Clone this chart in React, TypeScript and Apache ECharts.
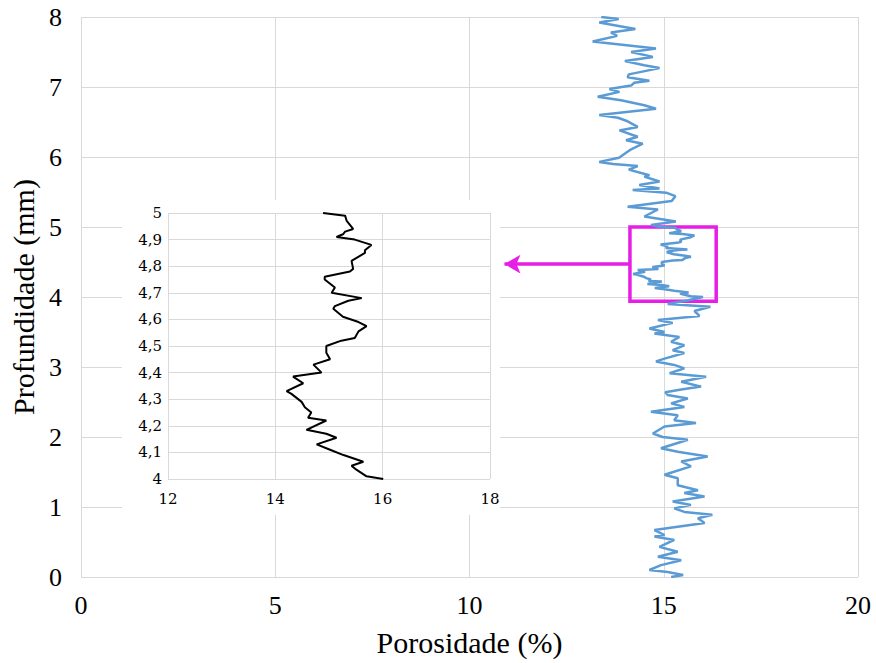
import React, { useEffect, useRef } from 'react';
import * as echarts from 'echarts';

const depthMm = [
  0.0, 0.03, 0.07, 0.1, 0.17, 0.24, 0.29, 0.36, 0.43, 0.53, 0.58, 0.6, 0.67, 0.77, 0.84, 0.89, 0.93, 0.98,
  1.03, 1.08, 1.15, 1.2, 1.24, 1.31, 1.41, 1.46, 1.58, 1.65, 1.72, 1.79, 1.84, 1.96,
  2.0, 2.05, 2.15, 2.2, 2.24, 2.31, 2.36, 2.43, 2.48, 2.55, 2.6, 2.64, 2.68, 2.72, 2.79, 2.86, 2.91, 2.98,
  3.03, 3.08, 3.12, 3.2, 3.24, 3.31, 3.36, 3.43, 3.48, 3.5, 3.55, 3.63, 3.67, 3.73, 3.8, 3.86, 3.9, 3.95,
  4.0, 4.01, 4.035, 4.05, 4.065, 4.09, 4.11, 4.13, 4.155, 4.17, 4.185, 4.22, 4.23, 4.25, 4.27, 4.29,
  4.32, 4.33, 4.36, 4.385, 4.4, 4.43, 4.45, 4.475, 4.5, 4.52, 4.53, 4.555, 4.575, 4.59, 4.61, 4.64,
  4.65, 4.67, 4.68, 4.7, 4.72, 4.75, 4.76, 4.78, 4.79, 4.82, 4.85, 4.86, 4.88, 4.9, 4.91, 4.92, 4.93,
  4.94, 4.97, 4.99, 5.0,
  5.03, 5.08, 5.15, 5.25, 5.29, 5.37, 5.44, 5.49, 5.53, 5.55, 5.6, 5.65, 5.72, 5.74, 5.82, 5.87, 5.9, 5.93, 5.99,
  6.06, 6.11, 6.19, 6.24, 6.29, 6.38, 6.43, 6.51, 6.56, 6.6, 6.69, 6.74, 6.81, 6.86, 6.93, 6.97,
  7.02, 7.06, 7.09, 7.14, 7.18, 7.27, 7.31, 7.37, 7.43, 7.5, 7.55, 7.65, 7.73, 7.78, 7.83, 7.92, 7.97, 8.0,
];
const porosityPct = [
  15.19, 15.5, 15.1, 14.63, 14.93, 15.45, 14.85, 15.36, 14.89, 15.27, 14.76, 15.02, 14.76, 16.05, 15.88, 16.25, 15.53, 15.27,
  15.7, 15.23, 16.05, 15.53, 15.88, 15.36, 15.36, 15.02, 15.7, 15.45, 16.13, 15.36, 14.93, 15.62,
  14.97, 14.72, 15.02, 15.83, 15.27, 15.36, 14.67, 15.53, 15.19, 15.62, 15.1, 15.04, 15.45, 15.96, 15.45, 16.09, 15.15, 15.53,
  15.27, 14.8, 15.02, 15.53, 15.23, 15.53, 15.19, 15.4, 14.76, 15.02, 14.63, 15.23, 14.85, 15.92, 15.79, 16.2, 15.1, 15.6,
  16.01, 15.7, 15.51, 15.42, 15.64, 15.27, 15.02, 14.77, 15.14, 14.95, 14.58, 14.95, 14.61, 14.67, 14.55, 14.49,
  14.3, 14.21, 14.52, 14.33, 14.86, 14.71, 15.02, 14.95, 14.95, 15.23, 15.48, 15.55, 15.7, 15.55, 15.26, 15.08,
  15.11, 15.36, 15.61, 15.05, 15.11, 14.92, 14.92, 15.39, 15.45, 15.42, 15.67, 15.67, 15.79, 15.48, 15.14, 15.26, 15.3,
  15.45, 15.33, 15.3, 14.89,
  14.67, 15.31, 14.5, 14.85, 14.07, 15.2, 15.3, 15.06, 14.2, 14.89, 14.37, 14.89, 14.5, 14.63, 14.1, 14.33, 13.7, 13.34, 13.85,
  14.03, 14.16, 14.46, 14.03, 14.33, 13.86, 14.33, 14.07, 13.82, 13.34, 14.8, 14.5, 13.9, 13.3, 13.86, 13.6,
  14.16, 14.24, 14.63, 14.07, 14.1, 14.89, 14.5, 14.0, 14.72, 14.16, 14.8, 13.17, 13.8, 13.64, 14.27, 13.34, 13.84, 13.39,
];

// Highlighted window and arrow (data units)
const boxPorosity = [14.13, 16.35];
const boxDepth = [3.94, 5.0];
const arrowDepth = 4.47;
const arrowTip = 10.9;

const insetDepthRange = [4, 5];

const FONT = 'Liberation Serif';
const INSET_FONT = 'DejaVu Serif';
const MAGENTA = '#E61EE6';

export default function App() {
  const ref = useRef<HTMLDivElement>(null);

  useEffect(() => {
    if (!ref.current) return;
    const chart = echarts.init(ref.current, undefined, { renderer: 'svg' });

    const mainData = depthMm.map((d, i) => [porosityPct[i], d]);
    const insetData = depthMm
      .map((d, i) => [porosityPct[i], d])
      .filter((p) => p[1] >= insetDepthRange[0] && p[1] <= insetDepthRange[1]);

    chart.setOption({
      animation: false,
      backgroundColor: '#fff',
      textStyle: { fontFamily: FONT },
      graphic: [
        {
          type: 'rect',
          silent: true,
          z: 1,
          shape: { x: 122, y: 200, width: 378, height: 315 },
          style: { fill: '#fff' },
        },
      ],
      grid: [
        { left: 81, right: 18, top: 17, bottom: 86 },
        { left: 168, top: 213, width: 322, height: 266 },
      ],
      xAxis: [
        {
          type: 'value',
          gridIndex: 0,
          min: 0,
          max: 20,
          interval: 5,
          z: 0,
          axisLine: { show: false },
          axisTick: { show: false },
          splitLine: { lineStyle: { color: '#d9d9d9', width: 1 } },
          axisLabel: { fontFamily: FONT, fontSize: 26, color: '#000', margin: 15 },
          name: 'Porosidade (%)',
          nameLocation: 'middle',
          nameGap: 50,
          nameTextStyle: { fontFamily: FONT, fontSize: 30, color: '#000' },
        },
        {
          type: 'value',
          gridIndex: 1,
          min: 12,
          max: 18,
          interval: 2,
          z: 3,
          axisLine: { show: false },
          axisTick: { show: false },
          splitLine: { lineStyle: { color: '#d9d9d9', width: 1 } },
          axisLabel: { fontFamily: INSET_FONT, fontSize: 15, color: '#000', margin: 12 },
        },
      ],
      yAxis: [
        {
          type: 'value',
          gridIndex: 0,
          min: 0,
          max: 8,
          interval: 1,
          z: 0,
          axisLine: { show: false },
          axisTick: { show: false },
          splitLine: { lineStyle: { color: '#d9d9d9', width: 1 } },
          axisLabel: { fontFamily: FONT, fontSize: 26, color: '#000', margin: 19 },
          name: 'Profundidade (mm)',
          nameLocation: 'middle',
          nameGap: 38,
          nameTextStyle: { fontFamily: FONT, fontSize: 30, color: '#000' },
        },
        {
          type: 'value',
          gridIndex: 1,
          min: 4,
          max: 5,
          interval: 0.1,
          z: 3,
          axisLine: { show: false },
          axisTick: { show: false },
          splitLine: { lineStyle: { color: '#d9d9d9', width: 1 } },
          axisLabel: {
            fontFamily: INSET_FONT,
            fontSize: 15,
            color: '#000',
            margin: 6,
            formatter: (v: number) => {
              const r = Math.round(v * 10) / 10;
              return Number.isInteger(r) ? String(r) : r.toFixed(1).replace('.', ',');
            },
          },
        },
      ],
      series: [
        {
          type: 'line',
          xAxisIndex: 0,
          yAxisIndex: 0,
          data: mainData,
          symbol: 'none',
          showSymbol: false,
          z: 2,
          lineStyle: { color: '#5B9BD5', width: 2.5 },
          markArea: {
            silent: true,
            itemStyle: { color: 'rgba(0,0,0,0)', borderColor: MAGENTA, borderWidth: 3.5 },
            data: [[{ coord: [boxPorosity[0], boxDepth[1]] }, { coord: [boxPorosity[1], boxDepth[0]] }]],
          },
          markLine: {
            silent: true,
            symbol: ['none', 'arrow'],
            symbolSize: [14, 16],
            label: { show: false },
            lineStyle: { color: MAGENTA, width: 3.5, type: 'solid' },
            data: [[{ coord: [boxPorosity[0], arrowDepth] }, { coord: [arrowTip, arrowDepth] }]],
          },
        },
        {
          type: 'line',
          xAxisIndex: 1,
          yAxisIndex: 1,
          data: insetData,
          symbol: 'none',
          showSymbol: false,
          z: 4,
          lineStyle: { color: '#000', width: 2 },
        },
      ],
    });

    return () => chart.dispose();
  }, []);

  return (
    <div
      ref={ref}
      style={{ position: 'fixed', left: 0, top: 0, width: 876, height: 663, background: '#fff' }}
    />
  );
}
